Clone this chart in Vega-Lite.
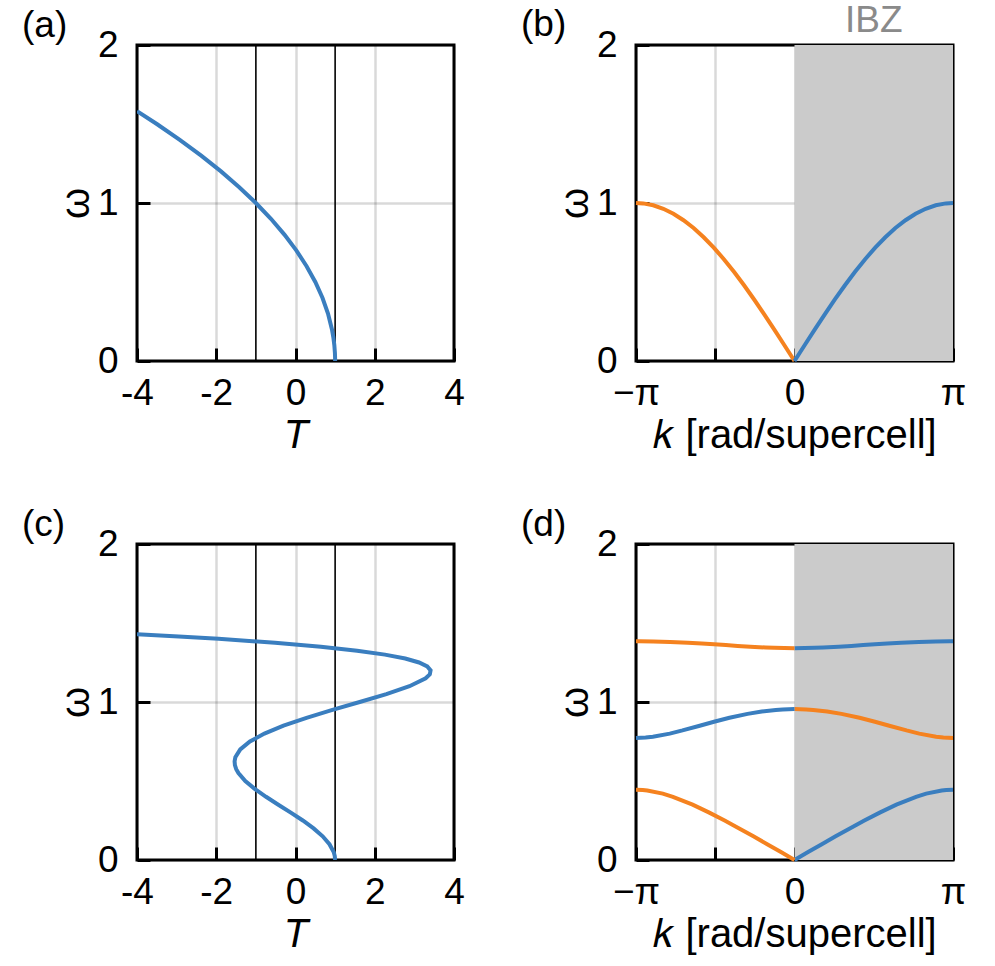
{
  "$schema": "https://vega.github.io/schema/vega-lite/v6.json",
  "padding": {"left": 20, "top": 0, "right": 5, "bottom": 5},
  "background": "white",
  "datasets": {
    "a": [
      {"T": 1, "w": 0}, {"T": 0.9992, "w": 0.02}, {"T": 0.995, "w": 0.05}, {"T": 0.98, "w": 0.1},
      {"T": 0.955, "w": 0.15}, {"T": 0.92, "w": 0.2}, {"T": 0.82, "w": 0.3}, {"T": 0.68, "w": 0.4},
      {"T": 0.5, "w": 0.5}, {"T": 0.28, "w": 0.6}, {"T": 0.02, "w": 0.7}, {"T": -0.28, "w": 0.8},
      {"T": -0.62, "w": 0.9}, {"T": -1, "w": 1.0}, {"T": -1.42, "w": 1.1}, {"T": -1.88, "w": 1.2},
      {"T": -2.38, "w": 1.3}, {"T": -2.92, "w": 1.4}, {"T": -3.5, "w": 1.5}, {"T": -4, "w": 1.5811}
    ],
    "c": [
      {"w": 0, "T": 1}, {"w": 0.025, "T": 0.991}, {"w": 0.05, "T": 0.964}, {"w": 0.1, "T": 0.857},
      {"w": 0.15, "T": 0.686}, {"w": 0.2, "T": 0.457}, {"w": 0.25, "T": 0.185}, {"w": 0.3, "T": -0.118},
      {"w": 0.35, "T": -0.434}, {"w": 0.4, "T": -0.744}, {"w": 0.45, "T": -1.029}, {"w": 0.5, "T": -1.267},
      {"w": 0.55, "T": -1.44}, {"w": 0.575, "T": -1.496}, {"w": 0.6, "T": -1.529}, {"w": 0.625, "T": -1.537},
      {"w": 0.65, "T": -1.518}, {"w": 0.7, "T": -1.394}, {"w": 0.75, "T": -1.15}, {"w": 0.8, "T": -0.784},
      {"w": 0.85, "T": -0.303}, {"w": 0.9, "T": 0.278}, {"w": 0.95, "T": 0.932}, {"w": 1.0, "T": 1.621},
      {"w": 1.05, "T": 2.293}, {"w": 1.1, "T": 2.876}, {"w": 1.15, "T": 3.285}, {"w": 1.175, "T": 3.39},
      {"w": 1.2, "T": 3.409}, {"w": 1.225, "T": 3.325}, {"w": 1.25, "T": 3.118}, {"w": 1.275, "T": 2.77},
      {"w": 1.3, "T": 2.257}, {"w": 1.325, "T": 1.555}, {"w": 1.35, "T": 0.64}, {"w": 1.375, "T": -0.517},
      {"w": 1.4, "T": -1.945}, {"w": 1.415, "T": -2.945}, {"w": 1.429, "T": -4.0}
    ],
    "lines": [{"T": -1}, {"T": 1}],
    "b": [
      {"k": -3.14159, "w": 1.0, "vg": "neg"}, {"k": -3.0, "w": 0.9975, "vg": "neg"}, {"k": -2.8, "w": 0.9854, "vg": "neg"},
      {"k": -2.6, "w": 0.9636, "vg": "neg"}, {"k": -2.4, "w": 0.932, "vg": "neg"}, {"k": -2.2, "w": 0.8912, "vg": "neg"},
      {"k": -2.0, "w": 0.8415, "vg": "neg"}, {"k": -1.8, "w": 0.7833, "vg": "neg"}, {"k": -1.6, "w": 0.7174, "vg": "neg"},
      {"k": -1.4, "w": 0.6442, "vg": "neg"}, {"k": -1.2, "w": 0.5646, "vg": "neg"}, {"k": -1.0, "w": 0.4794, "vg": "neg"},
      {"k": -0.8, "w": 0.3894, "vg": "neg"}, {"k": -0.6, "w": 0.2955, "vg": "neg"}, {"k": -0.4, "w": 0.1987, "vg": "neg"},
      {"k": -0.2, "w": 0.0998, "vg": "neg"}, {"k": 0, "w": 0, "vg": "neg"},
      {"k": 0, "w": 0, "vg": "pos"}, {"k": 0.2, "w": 0.0998, "vg": "pos"}, {"k": 0.4, "w": 0.1987, "vg": "pos"},
      {"k": 0.6, "w": 0.2955, "vg": "pos"}, {"k": 0.8, "w": 0.3894, "vg": "pos"}, {"k": 1.0, "w": 0.4794, "vg": "pos"},
      {"k": 1.2, "w": 0.5646, "vg": "pos"}, {"k": 1.4, "w": 0.6442, "vg": "pos"}, {"k": 1.6, "w": 0.7174, "vg": "pos"},
      {"k": 1.8, "w": 0.7833, "vg": "pos"}, {"k": 2.0, "w": 0.8415, "vg": "pos"}, {"k": 2.2, "w": 0.8912, "vg": "pos"},
      {"k": 2.4, "w": 0.932, "vg": "pos"}, {"k": 2.6, "w": 0.9636, "vg": "pos"}, {"k": 2.8, "w": 0.9854, "vg": "pos"},
      {"k": 3.0, "w": 0.9975, "vg": "pos"}, {"k": 3.14159, "w": 1.0, "vg": "pos"}
    ],
    "d": [
      {"band": 1, "vg": "pos", "k": 0, "w": 0}, {"band": 1, "vg": "pos", "k": 0.269, "w": 0.05},
      {"band": 1, "vg": "pos", "k": 0.5415, "w": 0.1}, {"band": 1, "vg": "pos", "k": 0.8148, "w": 0.15},
      {"band": 1, "vg": "pos", "k": 1.096, "w": 0.2}, {"band": 1, "vg": "pos", "k": 1.3847, "w": 0.25},
      {"band": 1, "vg": "pos", "k": 1.6891, "w": 0.3}, {"band": 1, "vg": "pos", "k": 2.0197, "w": 0.35},
      {"band": 1, "vg": "pos", "k": 2.4099, "w": 0.4}, {"band": 1, "vg": "pos", "k": 2.6101, "w": 0.42},
      {"band": 1, "vg": "pos", "k": 2.9177, "w": 0.44}, {"band": 1, "vg": "pos", "k": 3.0087, "w": 0.443},
      {"band": 1, "vg": "pos", "k": 3.14159, "w": 0.4446},
      {"band": 1, "vg": "neg", "k": 0, "w": 0}, {"band": 1, "vg": "neg", "k": -0.269, "w": 0.05},
      {"band": 1, "vg": "neg", "k": -0.5415, "w": 0.1}, {"band": 1, "vg": "neg", "k": -0.8148, "w": 0.15},
      {"band": 1, "vg": "neg", "k": -1.096, "w": 0.2}, {"band": 1, "vg": "neg", "k": -1.3847, "w": 0.25},
      {"band": 1, "vg": "neg", "k": -1.6891, "w": 0.3}, {"band": 1, "vg": "neg", "k": -2.0197, "w": 0.35},
      {"band": 1, "vg": "neg", "k": -2.4099, "w": 0.4}, {"band": 1, "vg": "neg", "k": -2.6101, "w": 0.42},
      {"band": 1, "vg": "neg", "k": -2.9177, "w": 0.44}, {"band": 1, "vg": "neg", "k": -3.0087, "w": 0.443},
      {"band": 1, "vg": "neg", "k": -3.14159, "w": 0.4446},
      {"band": 2, "vg": "neg", "k": 0, "w": 0.955}, {"band": 2, "vg": "neg", "k": 0.2333, "w": 0.953},
      {"band": 2, "vg": "neg", "k": 0.3706, "w": 0.95}, {"band": 2, "vg": "neg", "k": 0.6487, "w": 0.94},
      {"band": 2, "vg": "neg", "k": 0.9302, "w": 0.925}, {"band": 2, "vg": "neg", "k": 1.2891, "w": 0.9},
      {"band": 2, "vg": "neg", "k": 1.5947, "w": 0.875}, {"band": 2, "vg": "neg", "k": 1.8786, "w": 0.85},
      {"band": 2, "vg": "neg", "k": 2.2204, "w": 0.82}, {"band": 2, "vg": "neg", "k": 2.4719, "w": 0.8},
      {"band": 2, "vg": "neg", "k": 2.8069, "w": 0.78}, {"band": 2, "vg": "neg", "k": 2.9508, "w": 0.775},
      {"band": 2, "vg": "neg", "k": 3.14159, "w": 0.7725},
      {"band": 2, "vg": "pos", "k": 0, "w": 0.955}, {"band": 2, "vg": "pos", "k": -0.2333, "w": 0.953},
      {"band": 2, "vg": "pos", "k": -0.3706, "w": 0.95}, {"band": 2, "vg": "pos", "k": -0.6487, "w": 0.94},
      {"band": 2, "vg": "pos", "k": -0.9302, "w": 0.925}, {"band": 2, "vg": "pos", "k": -1.2891, "w": 0.9},
      {"band": 2, "vg": "pos", "k": -1.5947, "w": 0.875}, {"band": 2, "vg": "pos", "k": -1.8786, "w": 0.85},
      {"band": 2, "vg": "pos", "k": -2.2204, "w": 0.82}, {"band": 2, "vg": "pos", "k": -2.4719, "w": 0.8},
      {"band": 2, "vg": "pos", "k": -2.8069, "w": 0.78}, {"band": 2, "vg": "pos", "k": -2.9508, "w": 0.775},
      {"band": 2, "vg": "pos", "k": -3.14159, "w": 0.7725},
      {"band": 3, "vg": "pos", "k": 0, "w": 1.3409}, {"band": 3, "vg": "pos", "k": 0.4036, "w": 1.343},
      {"band": 3, "vg": "pos", "k": 0.5703, "w": 1.345}, {"band": 3, "vg": "pos", "k": 0.8763, "w": 1.35},
      {"band": 3, "vg": "pos", "k": 1.1273, "w": 1.355}, {"band": 3, "vg": "pos", "k": 1.3612, "w": 1.36},
      {"band": 3, "vg": "pos", "k": 1.5939, "w": 1.365}, {"band": 3, "vg": "pos", "k": 1.8386, "w": 1.37},
      {"band": 3, "vg": "pos", "k": 2.1142, "w": 1.375}, {"band": 3, "vg": "pos", "k": 2.4649, "w": 1.38},
      {"band": 3, "vg": "pos", "k": 2.8015, "w": 1.383}, {"band": 3, "vg": "pos", "k": 3.0786, "w": 1.384},
      {"band": 3, "vg": "pos", "k": 3.14159, "w": 1.3841},
      {"band": 3, "vg": "neg", "k": 0, "w": 1.3409}, {"band": 3, "vg": "neg", "k": -0.4036, "w": 1.343},
      {"band": 3, "vg": "neg", "k": -0.5703, "w": 1.345}, {"band": 3, "vg": "neg", "k": -0.8763, "w": 1.35},
      {"band": 3, "vg": "neg", "k": -1.1273, "w": 1.355}, {"band": 3, "vg": "neg", "k": -1.3612, "w": 1.36},
      {"band": 3, "vg": "neg", "k": -1.5939, "w": 1.365}, {"band": 3, "vg": "neg", "k": -1.8386, "w": 1.37},
      {"band": 3, "vg": "neg", "k": -2.1142, "w": 1.375}, {"band": 3, "vg": "neg", "k": -2.4649, "w": 1.38},
      {"band": 3, "vg": "neg", "k": -2.8015, "w": 1.383}, {"band": 3, "vg": "neg", "k": -3.0786, "w": 1.384},
      {"band": 3, "vg": "neg", "k": -3.14159, "w": 1.3841}
    ],
    "ibz": [{"k0": 0, "k1": 3.14159, "kc": 1.5708, "label": "IBZ"}]
  },
  "columns": 2,
  "spacing": {"column": 53, "row": 47},
  "concat": [
    {
      "width": 317, "height": 316,
      "title": {"text": "(a)", "anchor": "start", "frame": "group", "dx": -115, "offset": -19},
      "layer": [
        {
          "data": {"name": "lines"},
          "mark": {"type": "rule", "color": "black", "strokeWidth": 1.6},
          "encoding": {
            "x": {"field": "T", "type": "quantitative", "scale": {"domain": [-4, 4], "nice": false},
                  "axis": {"values": [-4, -2, 0, 2, 4], "title": "T", "titleFontStyle": "italic", "labelExpr": "'' + datum.value"}}
          }
        },
        {
          "data": {"name": "a"},
          "mark": {"type": "line", "color": "#3a7ebf", "strokeWidth": 4, "clip": true},
          "encoding": {
            "x": {"field": "T", "type": "quantitative"},
            "y": {"field": "w", "type": "quantitative", "scale": {"domain": [0, 2], "nice": false},
                  "axis": {"values": [0, 1, 2], "title": "ω", "labelExpr": "'' + datum.value"}},
            "order": {"field": "w"}
          }
        }
      ]
    },
    {
      "width": 317, "height": 316,
      "title": {"text": "(b)", "anchor": "start", "frame": "group", "dx": -115, "offset": -42},
      "layer": [
        {
          "data": {"name": "ibz"},
          "mark": {"type": "rect", "color": "#cbcbcb"},
          "encoding": {
            "x": {"field": "k0", "type": "quantitative", "scale": {"domain": [-3.14159, 3.14159], "nice": false, "zero": false},
                  "axis": {"values": [-3.14159, -1.5708, 0, 1.5708, 3.14159], "title": "𝑘 [rad/supercell]",
                           "labelExpr": "datum.value < -3 ? '−π' : (datum.value > 3 ? 'π' : (abs(datum.value) < 0.01 ? '0' : ''))"}},
            "x2": {"field": "k1"}
          }
        },
        {
          "data": {"name": "ibz"},
          "mark": {"type": "text", "color": "#8a8a8a", "fontSize": 37, "font": "Liberation Sans", "baseline": "alphabetic", "dy": -13},
          "encoding": {
            "x": {"field": "kc", "type": "quantitative"},
            "y": {"datum": 2, "type": "quantitative"},
            "text": {"field": "label"}
          }
        },
        {
          "data": {"name": "b"},
          "mark": {"type": "line", "strokeWidth": 4},
          "encoding": {
            "x": {"field": "k", "type": "quantitative"},
            "y": {"field": "w", "type": "quantitative", "scale": {"domain": [0, 2], "nice": false},
                  "axis": {"values": [0, 1, 2], "title": "ω", "labelExpr": "'' + datum.value"}},
            "color": {"field": "vg", "type": "nominal", "scale": {"domain": ["pos", "neg"], "range": ["#3a7ebf", "#f5821f"]}, "legend": null}
          }
        }
      ]
    },
    {
      "width": 317, "height": 316,
      "title": {"text": "(c)", "anchor": "start", "frame": "group", "dx": -115, "offset": -19},
      "layer": [
        {
          "data": {"name": "lines"},
          "mark": {"type": "rule", "color": "black", "strokeWidth": 1.6},
          "encoding": {
            "x": {"field": "T", "type": "quantitative", "scale": {"domain": [-4, 4], "nice": false},
                  "axis": {"values": [-4, -2, 0, 2, 4], "title": "T", "titleFontStyle": "italic", "labelExpr": "'' + datum.value"}}
          }
        },
        {
          "data": {"name": "c"},
          "mark": {"type": "line", "color": "#3a7ebf", "strokeWidth": 4, "clip": true},
          "encoding": {
            "x": {"field": "T", "type": "quantitative"},
            "y": {"field": "w", "type": "quantitative", "scale": {"domain": [0, 2], "nice": false},
                  "axis": {"values": [0, 1, 2], "title": "ω", "labelExpr": "'' + datum.value"}},
            "order": {"field": "w"}
          }
        }
      ]
    },
    {
      "width": 317, "height": 316,
      "title": {"text": "(d)", "anchor": "start", "frame": "group", "dx": -115, "offset": -19},
      "layer": [
        {
          "data": {"name": "ibz"},
          "mark": {"type": "rect", "color": "#cbcbcb"},
          "encoding": {
            "x": {"field": "k0", "type": "quantitative", "scale": {"domain": [-3.14159, 3.14159], "nice": false, "zero": false},
                  "axis": {"values": [-3.14159, -1.5708, 0, 1.5708, 3.14159], "title": "𝑘 [rad/supercell]",
                           "labelExpr": "datum.value < -3 ? '−π' : (datum.value > 3 ? 'π' : (abs(datum.value) < 0.01 ? '0' : ''))"}},
            "x2": {"field": "k1"}
          }
        },
        {
          "data": {"name": "d"},
          "mark": {"type": "line", "strokeWidth": 4},
          "encoding": {
            "x": {"field": "k", "type": "quantitative"},
            "y": {"field": "w", "type": "quantitative", "scale": {"domain": [0, 2], "nice": false},
                  "axis": {"values": [0, 1, 2], "title": "ω", "labelExpr": "'' + datum.value"}},
            "detail": {"field": "band", "type": "nominal"},
            "color": {"field": "vg", "type": "nominal", "scale": {"domain": ["pos", "neg"], "range": ["#3a7ebf", "#f5821f"]}, "legend": null}
          }
        }
      ]
    }
  ],
  "config": {
    "font": "Liberation Sans",
    "view": {"stroke": "black", "strokeWidth": 3},
    "title": {"fontSize": 37, "fontWeight": "normal", "color": "black", "font": "Liberation Sans"},
    "axis": {
      "domain": false,
      "zindex": 1,
      "ticks": true,
      "tickColor": "black",
      "tickWidth": 3,
      "tickSize": -13,
      "labelFont": "Liberation Sans",
      "labelFontSize": 37,
      "labelColor": "black",
      "titleFont": "Liberation Sans",
      "titleFontSize": 40,
      "titleFontWeight": "normal",
      "titleColor": "black",
      "grid": true,
      "gridColor": "black",
      "gridOpacity": 0.15,
      "gridWidth": 2.5
    },
    "axisX": {"labelPadding": 27, "titlePadding": 4, "labelFlush": false},
    "axisY": {"labelPadding": 32, "titlePadding": 1}
  }
}
